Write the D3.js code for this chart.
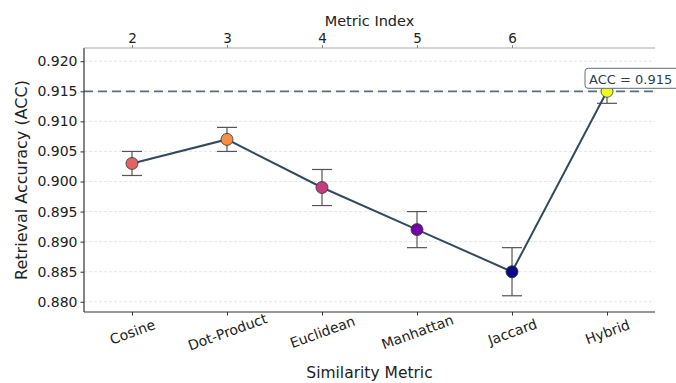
<!DOCTYPE html>
<html>
<head>
<meta charset="UTF-8">
<script src="https://d3js.org/d3.v7.min.js"></script>
<style>
  body { margin: 0; background: white; }
  svg { display: block; font-family: "DejaVu Sans", sans-serif; }
</style>
</head>
<body>
<svg width="676" height="383"></svg>
<script>
const metrics = ["Cosine", "Dot-Product", "Euclidean", "Manhattan", "Jaccard", "Hybrid"];
const accuracy = [0.903, 0.907, 0.899, 0.892, 0.885, 0.915];
const errors = [0.002, 0.002, 0.003, 0.003, 0.004, 0.002];
const yTicks = [0.880, 0.885, 0.890, 0.895, 0.900, 0.905, 0.910, 0.915, 0.920];
const topTicks = [2, 3, 4, 5, 6];
const refValue = 0.915;

const mLeft = 84, mRight = 655, mTop = 48, mBottom = 312;
const svg = d3.select("svg");

const x = d3.scaleLinear().domain([-0.505, 5.505]).range([mLeft, mRight]);
const y = d3.scaleLinear().domain([0.8783, 0.9222]).range([mBottom, mTop]);
const color = d3.scaleSequential(d3.interpolatePlasma).domain([d3.min(accuracy), d3.max(accuracy)]);

// grid
svg.append("g").selectAll("line").data(yTicks).enter().append("line")
  .attr("x1", mLeft).attr("x2", mRight)
  .attr("y1", d => y(d)).attr("y2", d => y(d))
  .attr("stroke", "#e0e0e0").attr("stroke-width", 0.8).attr("stroke-dasharray", "3,2");

// reference line
svg.append("line")
  .attr("x1", mLeft).attr("x2", mRight)
  .attr("y1", y(refValue)).attr("y2", y(refValue))
  .attr("stroke", "#5d6d7e").attr("stroke-width", 1.8).attr("stroke-dasharray", "9,5");

// y axis
const yAxis = svg.append("g").attr("transform", `translate(${mLeft},0)`)
  .call(d3.axisLeft(y).tickValues(yTicks).tickFormat(d3.format(".3f")).tickSize(3.5).tickPadding(3));
yAxis.select(".domain").attr("stroke", "#333").attr("stroke-width", 1.2).attr("d", `M0,${mTop}V${mBottom}`);
yAxis.selectAll("text").attr("font-size", 14).attr("fill", "#222").attr("font-family", "DejaVu Sans");
yAxis.selectAll(".tick line").attr("stroke", "#333");

// bottom axis
const xAxis = svg.append("g").attr("transform", `translate(0,${mBottom})`)
  .call(d3.axisBottom(x).tickValues(d3.range(metrics.length)).tickFormat(i => metrics[i]).tickSize(3.5));
xAxis.select(".domain").attr("stroke", "#333").attr("stroke-width", 1.2).attr("d", `M${mLeft},0H${mRight}`);
xAxis.selectAll(".tick line").attr("stroke", "#333");
xAxis.selectAll("text")
  .attr("font-size", 14).attr("fill", "#222").attr("font-family", "DejaVu Sans")
  .attr("text-anchor", "middle").attr("dy", "0.35em").attr("y", 0)
  .attr("transform", "translate(0,20) rotate(-20)");

// top axis
const tAxis = svg.append("g").attr("transform", `translate(0,${mTop})`)
  .call(d3.axisTop(x).tickValues(topTicks.map((d, i) => i)).tickFormat((d, i) => topTicks[i]).tickSize(3).tickPadding(2));
tAxis.select(".domain").attr("stroke", "#aaa").attr("stroke-width", 1).attr("d", `M${mLeft},0H${mRight}`);
tAxis.selectAll(".tick line").attr("stroke", "#888");
tAxis.selectAll("text").attr("font-size", 13.5).attr("fill", "#222").attr("font-family", "DejaVu Sans");

// error bars
const eb = svg.append("g").attr("stroke", "#555").attr("stroke-width", 1.2).attr("fill", "none");
accuracy.forEach((v, i) => {
  const g = eb.append("g");
  g.append("line").attr("x1", x(i)).attr("x2", x(i)).attr("y1", y(v - errors[i])).attr("y2", y(v + errors[i]));
  g.append("line").attr("x1", x(i) - 10).attr("x2", x(i) + 10).attr("y1", y(v - errors[i])).attr("y2", y(v - errors[i]));
  g.append("line").attr("x1", x(i) - 10).attr("x2", x(i) + 10).attr("y1", y(v + errors[i])).attr("y2", y(v + errors[i]));
});

// line
svg.append("path")
  .datum(accuracy)
  .attr("d", d3.line().x((d, i) => x(i)).y(d => y(d)))
  .attr("fill", "none").attr("stroke", "#34495e").attr("stroke-width", 2);

// markers
svg.append("g").selectAll("circle").data(accuracy).enter().append("circle")
  .attr("cx", (d, i) => x(i)).attr("cy", d => y(d)).attr("r", 6)
  .attr("fill", d => color(d)).attr("stroke", "#333").attr("stroke-width", 0.8);

// annotation
const hi = accuracy.indexOf(d3.max(accuracy));
const ann = svg.append("g").attr("transform", `translate(${x(hi) - 22},${y(accuracy[hi]) - 12})`);
ann.append("rect").attr("x", 0).attr("y", -11).attr("width", 94).attr("height", 20).attr("rx", 3)
  .attr("fill", "white").attr("stroke", "#5d6d7e").attr("stroke-width", 1);
ann.append("text").attr("x", 4).attr("y", 4.5).attr("font-size", 13).attr("fill", "#2c3e50")
  .text("ACC = " + d3.max(accuracy).toFixed(3));

// axis labels
svg.append("text").attr("x", (mLeft + mRight) / 2).attr("y", 378).attr("text-anchor", "middle")
  .attr("font-size", 15.5).attr("fill", "#222").text("Similarity Metric");
svg.append("text").attr("x", (mLeft + mRight) / 2).attr("y", 25.5).attr("text-anchor", "middle")
  .attr("font-size", 14.5).attr("fill", "#222").text("Metric Index");
svg.append("text").attr("transform", `translate(27,${(mTop + mBottom) / 2}) rotate(-90)`).attr("text-anchor", "middle")
  .attr("font-size", 16).attr("fill", "#222").text("Retrieval Accuracy (ACC)");
</script>
</body>
</html>
